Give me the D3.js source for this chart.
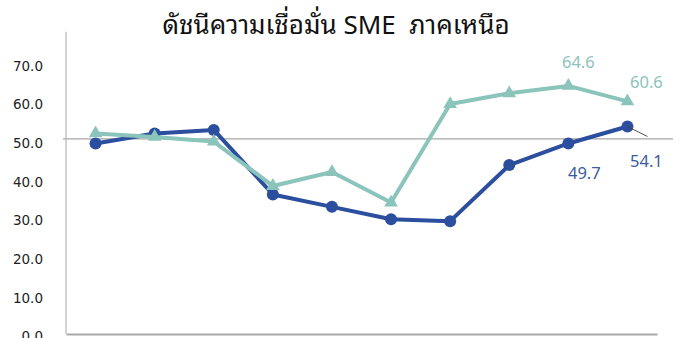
<!DOCTYPE html>
<html>
<head>
<meta charset="utf-8">
<script src="https://cdn.jsdelivr.net/npm/d3@7"></script>
<style>
  html, body { margin: 0; padding: 0; background: #fff; }
  svg { display: block; }
</style>
</head>
<body>
<svg id="chart" width="681" height="338"></svg>
<script>
// Ten survey periods (unlabelled on the axis)
const periods = ["P1", "P2", "P3", "P4", "P5", "P6", "P7", "P8", "P9", "P10"];
// Current index (blue, circles)
const currentIndex = [49.7, 52.3, 53.2, 36.5, 33.3, 30.1, 29.6, 44.1, 49.7, 54.1];
// Expected index (teal, triangles)
const expectedIndex = [52.3, 51.4, 50.2, 38.7, 42.3, 34.4, 59.9, 62.7, 64.6, 60.6];
// Value labels shown for the last two periods
const labelledPeriods = ["P9", "P10"];
const yTicks = [0, 10, 20, 30, 40, 50, 60, 70];
const yMax = 80;
const referenceLevel = 50.9;
const title = "ดัชนีความเชื่อมั่น SME  ภาคเหนือ";

const blue = "#2b4e9f";
const teal = "#8ac4bb";
const blueText = "#3b5b9c";
const tealText = "#8cc3ba";

const svg = d3.select("#chart");
const plot = { left: 66, right: 657, top: 31.7, bottom: 334 };

const x = d3.scaleBand().domain(periods).range([plot.left, plot.right]).padding(0);
const cx = d => x(d) + x.bandwidth() / 2;
const y = d3.scaleLinear().domain([0, yMax]).range([335.5, 26.4]);

// Title
svg.append("text")
  .attr("x", 336).attr("y", 34)
  .attr("text-anchor", "middle")
  .style("white-space", "pre")
  .attr("font-family", "'Noto Sans Thai Looped', 'Leelawadee UI', Tahoma, Loma, Garuda, 'Noto Sans Thai', 'DejaVu Sans', sans-serif")
  .attr("font-size", 26)
  .attr("fill", "#111")
  .text(title);

// Y axis
const yAxis = svg.append("g")
  .attr("transform", `translate(${plot.left},0)`)
  .call(d3.axisLeft(y).tickValues(yTicks).tickFormat(d3.format(".1f")).tickSize(0).tickPadding(23));
yAxis.select(".domain")
  .attr("d", `M0,${plot.top}V${plot.bottom}`)
  .attr("stroke", "#c3c3c3").attr("stroke-width", 1.5);
yAxis.selectAll("text")
  .attr("font-family", "'DejaVu Sans', Verdana, sans-serif")
  .attr("font-size", 13.5)
  .attr("fill", "#1e1e1e")
  .attr("dy", "0.38em");

// X axis (no tick labels)
const xAxis = svg.append("g")
  .attr("transform", `translate(0,${plot.bottom})`)
  .call(d3.axisBottom(x).tickSize(0).tickFormat(""));
xAxis.select(".domain").attr("stroke", "#a9a9a9").attr("stroke-width", 2);

// Reference level line
svg.append("line")
  .attr("x1", plot.left - 3).attr("x2", 673)
  .attr("y1", y(referenceLevel)).attr("y2", y(referenceLevel))
  .attr("stroke", "#a6a6a6").attr("stroke-width", 1.2);

const line = d3.line().x(d => cx(d.p)).y(d => y(d.v));
const curr = periods.map((p, i) => ({ p, v: currentIndex[i] }));
const expd = periods.map((p, i) => ({ p, v: expectedIndex[i] }));

// Current index series
svg.append("path").datum(curr)
  .attr("d", line).attr("fill", "none")
  .attr("stroke", blue).attr("stroke-width", 4).attr("stroke-linejoin", "round");
svg.selectAll("circle.curr").data(curr).enter().append("circle")
  .attr("class", "curr")
  .attr("cx", d => cx(d.p)).attr("cy", d => y(d.v)).attr("r", 6)
  .attr("fill", blue);

// Expected index series
svg.append("path").datum(expd)
  .attr("d", line).attr("fill", "none")
  .attr("stroke", teal).attr("stroke-width", 4).attr("stroke-linejoin", "round");
const tri = d3.symbol().type(d3.symbolTriangle).size(80);
svg.selectAll("path.expd").data(expd).enter().append("path")
  .attr("class", "expd")
  .attr("d", tri)
  .attr("transform", d => `translate(${cx(d.p)},${y(d.v)})`)
  .attr("fill", teal);

// Value labels (offsets from their points: [dx, dy])
const labelFont = "'Noto Sans', 'Open Sans', sans-serif";
const tealOffsets = [[10, -17.6], [19, -13]];
const blueOffsets = [[16, 35.5], [19, 40.5]];

const tealLabels = expd.filter(d => labelledPeriods.includes(d.p));
svg.selectAll("text.expd").data(tealLabels).enter().append("text")
  .attr("class", "expd")
  .attr("x", (d, i) => cx(d.p) + tealOffsets[i][0])
  .attr("y", (d, i) => y(d.v) + tealOffsets[i][1])
  .attr("text-anchor", "middle")
  .attr("font-family", labelFont).attr("font-size", 16.5)
  .attr("fill", tealText)
  .text(d => d.v.toFixed(1));

const blueLabels = curr.filter(d => labelledPeriods.includes(d.p));
// Leader line for the last current-index label
const last = blueLabels[blueLabels.length - 1];
svg.append("line")
  .attr("x1", cx(last.p)).attr("y1", y(last.v))
  .attr("x2", cx(last.p) + 20).attr("y2", y(last.v) + 10)
  .attr("stroke", "#404040").attr("stroke-width", 0.9);
svg.selectAll("text.curr").data(blueLabels).enter().append("text")
  .attr("class", "curr")
  .attr("x", (d, i) => cx(d.p) + blueOffsets[i][0])
  .attr("y", (d, i) => y(d.v) + blueOffsets[i][1])
  .attr("text-anchor", "middle")
  .attr("font-family", labelFont).attr("font-size", 16.5)
  .attr("fill", blueText)
  .text(d => d.v.toFixed(1));
</script>
</body>
</html>
